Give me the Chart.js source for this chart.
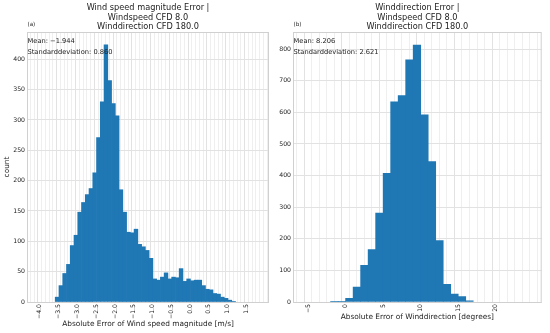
<!DOCTYPE html>
<html>
<head>
<meta charset="utf-8">
<script src="https://cdn.jsdelivr.net/npm/chart.js@4"></script>
<style>
  html, body { margin: 0; padding: 0; background: #fff; }
  #wrap { position: relative; width: 550px; height: 333px; }
  canvas { position: absolute; top: 0; }
  #c1 { left: 0; }
  #c2 { left: 275px; }
</style>
</head>
<body>
<div id="wrap">
  <canvas id="c1" width="275" height="333"></canvas>
  <canvas id="c2" width="275" height="333"></canvas>
</div>
<script>
// ── Data ──────────────────────────────────────────────
// (a) wind speed magnitude error, histogram bins of 0.1 m/s
const speedBinStart = -3.59;
const speedBinWidth = 0.1;
const speedCounts = [8, 27, 47, 62, 93, 110, 148, 164, 177, 187, 213, 271, 330, 424, 365, 327,
  307, 185, 148, 115, 114, 120, 95, 91, 85, 72, 38, 36, 41, 48, 38, 41, 40, 55, 34, 38, 35, 36, 36,
  27, 21, 20, 14, 13, 8, 6, 3, 1];
const speedXTicks = [-4.0, -3.5, -3.0, -2.5, -2.0, -1.5, -1.0, -0.5, 0.0, 0.5, 1.0, 1.5];
const speedYTicks = [0, 50, 100, 150, 200, 250, 300, 350, 400];
const speedXLim = [-4.29, 2.05];
const speedYLim = [0, 445];
const speedTitle = ["Wind speed magnitude Error |", "Windspeed CFD 8.0", "Winddirection CFD 180.0"];
const speedStats = ["Mean: \u22121.944", "Standarddeviation: 0.860"];

// (b) wind direction error, histogram bins of 1 degree
const dirBinStart = -2;
const dirBinWidth = 1;
const dirCounts = [1, 2, 12, 47, 116, 166, 281, 407, 633, 653, 766, 813, 592, 444, 194, 56, 25, 17, 4];
const dirXTicks = [-5, 0, 5, 10, 15, 20];
const dirYTicks = [0, 100, 200, 300, 400, 500, 600, 700, 800];
const dirXLim = [-6.49, 25.6];
const dirYLim = [0, 854];
const dirTitle = ["Winddirection Error |", "Windspeed CFD 8.0", "Winddirection CFD 180.0"];
const dirStats = ["Mean: 8.206", "Standarddeviation: 2.621"];

// ── Helpers ───────────────────────────────────────────
const FONT = "'DejaVu Sans', sans-serif";
const BLUE = "#1f77b4";

function fmt(v, dec) {
  const s = Math.abs(v).toFixed(dec);
  return (v < 0 ? "\u2212" : "") + s;
}

// minor grid every `step`, labels only on the major ticks
function minorTicks(lim, step) {
  const out = [];
  const k0 = Math.ceil(lim[0] / step - 1e-9), k1 = Math.floor(lim[1] / step + 1e-9);
  for (let k = k0; k <= k1; k++) out.push({ value: +(k * step).toFixed(6) });
  return out;
}

function isMajor(v, majors) {
  return majors.some(m => Math.abs(m - v) < 1e-6);
}

// titles, panel letter, stats text and the axes frame
const panelText = {
  id: "panelText",
  afterDatasetsDraw(chart, args, o) {
    const { ctx, chartArea: a } = chart;
    const cx = (a.left + a.right) / 2;
    ctx.save();
    ctx.strokeStyle = "#d0d0d0";
    ctx.lineWidth = 1;
    ctx.strokeRect(a.left + 0.5, a.top + 0.5, a.right - a.left - 1, a.bottom - a.top);

    ctx.fillStyle = "#222";
    ctx.textBaseline = "middle";
    ctx.textAlign = "center";
    ctx.font = "8.2px " + FONT;
    o.title.forEach((t, i) => ctx.fillText(t, cx, 8.3 + i * 9.2));

    ctx.textAlign = "left";
    ctx.font = "5.6px " + FONT;
    ctx.fillText(o.letter, a.left + 0.5, 24.3);

    ctx.font = "6.7px " + FONT;
    o.stats.forEach((t, i) => ctx.fillText(t, a.left + 0.5, 41 + i * 11.5));
    ctx.restore();
  }
};

// ── Chart builder ─────────────────────────────────────
function histChart(id, cfg) {
  const bars = cfg.counts.map((c, i) => ({ x: cfg.start + (i + 0.5) * cfg.width, y: c }));
  return new Chart(document.getElementById(id), {
    type: "bar",
    data: {
      datasets: [{
        data: bars,
        backgroundColor: BLUE,
        borderWidth: 0,
        barPercentage: 1,
        categoryPercentage: 1
      }]
    },
    plugins: [panelText],
    options: {
      responsive: false,
      animation: false,
      layout: { padding: { left: 0, right: cfg.padRight, top: 32, bottom: 0 } },
      plugins: {
        legend: { display: false },
        tooltip: { enabled: false },
        panelText: { title: cfg.title, stats: cfg.stats, letter: cfg.letter }
      },
      scales: {
        x: {
          type: "linear",
          min: cfg.xlim[0], max: cfg.xlim[1],
          afterBuildTicks: s => { s.ticks = minorTicks(cfg.xlim, cfg.minorStep); },
          afterFit: s => { s.height = 31; },
          grid: {
            drawTicks: false,
            color: c => (c.tick && isMajor(c.tick.value, cfg.xTicks)) ? "#e2e2e2" : "#efefef",
            lineWidth: 1
          },
          border: { display: false },
          ticks: {
            autoSkip: false, minRotation: 90, maxRotation: 90, padding: 2,
            color: "#222", font: { family: FONT, size: 6.2 },
            callback: v => isMajor(v, cfg.xTicks) ? fmt(v, cfg.xDec) : ""
          },
          title: {
            display: true, text: cfg.xLabel, color: "#222",
            font: { family: FONT, size: 7.4 },
            padding: { top: 0, bottom: cfg.xTitlePad }
          }
        },
        y: {
          min: cfg.ylim[0], max: cfg.ylim[1],
          afterBuildTicks: s => { s.ticks = cfg.yTicks.map(v => ({ value: v })); },
          afterFit: s => { s.width = cfg.yWidth; },
          grid: { drawTicks: false, color: "#e2e2e2", lineWidth: 1 },
          border: { display: false },
          ticks: {
            padding: 2, color: "#222", font: { family: FONT, size: 6.2 },
            callback: v => String(v)
          },
          title: {
            display: !!cfg.yLabel, text: cfg.yLabel || "", color: "#222",
            font: { family: FONT, size: 7.4 },
            padding: { top: 2.9, bottom: 0 }
          }
        }
      }
    }
  });
}

// ── Init ──────────────────────────────────────────────
histChart("c1", {
  counts: speedCounts, start: speedBinStart, width: speedBinWidth,
  xlim: speedXLim, ylim: speedYLim, xTicks: speedXTicks, yTicks: speedYTicks,
  minorStep: 0.1, xDec: 1, title: speedTitle, stats: speedStats, letter: "(a)",
  xLabel: "Absolute Error of Wind speed magnitude [m/s]", yLabel: "count",
  yWidth: 27, padRight: 6, xTitlePad: 4.6
});

histChart("c2", {
  counts: dirCounts, start: dirBinStart, width: dirBinWidth,
  xlim: dirXLim, ylim: dirYLim, xTicks: dirXTicks, yTicks: dirYTicks,
  minorStep: 1, xDec: 0, title: dirTitle, stats: dirStats, letter: "(b)",
  xLabel: "Absolute Error of Winddirection [degrees]", yLabel: null,
  yWidth: 18, padRight: 8.3, xTitlePad: 11.3
});
</script>
</body>
</html>
